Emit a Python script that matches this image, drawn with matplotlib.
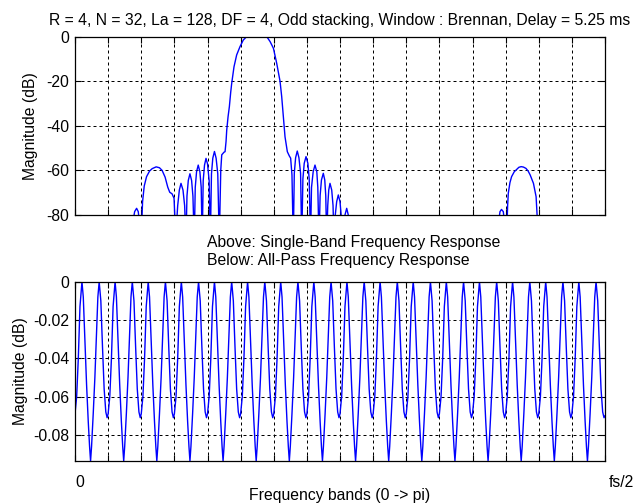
import numpy as np
import matplotlib
matplotlib.use("Agg")
import matplotlib.pyplot as plt

plt.rcParams['font.family'] = ['Liberation Sans', 'DejaVu Sans']
plt.rcParams['axes.unicode_minus'] = False

# ---------------- data ----------------
title_text = "R = 4, N = 32, La = 128, DF = 4, Odd stacking, Window : Brennan, Delay = 5.25 ms"
note_line1 = "Above: Single-Band Frequency Response"
note_line2 = "Below: All-Pass Frequency Response"
ylabel_text = "Magnitude (dB)"
xlabel_text = "Frequency bands (0 -> pi)"
x_left_label = "0"
x_right_label = "fs/2"

n_bands = 16
band_ticks = list(range(0, 17))

top_yticks = [0, -20, -40, -60, -80]
top_yticklabels = ["0", "-20", "-40", "-60", "-80"]
bot_yticks = [0, -0.02, -0.04, -0.06, -0.08]
bot_yticklabels = ["0", "-0.02", "-0.04", "-0.06", "-0.08"]

# Single-band response (frequency in band units, magnitude in dB)
top_freq = [
    0.00, 1.70, 1.74, 1.80, 1.86, 1.91, 1.95, 1.98,
    2.00, 2.04, 2.09, 2.16, 2.25, 2.33, 2.45, 2.55, 2.63, 2.72, 2.80, 2.86, 2.93, 2.99, 3.04,
    3.10, 3.15, 3.20, 3.26, 3.31, 3.35,
    3.38, 3.42, 3.47, 3.52, 3.56, 3.60,
    3.63, 3.67, 3.72, 3.77, 3.81, 3.84,
    3.87, 3.91, 3.955, 4.00, 4.05, 4.085,
    4.12, 4.16, 4.21, 4.26, 4.31, 4.356,
    4.40, 4.43, 4.50, 4.53, 4.56, 4.58, 4.62, 4.66, 4.70, 4.73, 4.80, 4.88, 4.98, 5.08, 5.18,
    5.49, 5.79, 5.89, 5.99, 6.09, 6.19, 6.24, 6.29, 6.34, 6.41, 6.47, 6.51, 6.55, 6.59,
    6.62, 6.66, 6.71, 6.76, 6.81, 6.844,
    6.88, 6.92, 6.974, 7.03, 7.07, 7.109,
    7.14, 7.19, 7.245, 7.30, 7.33, 7.366,
    7.40, 7.44, 7.496, 7.54, 7.57, 7.598,
    7.63, 7.66, 7.698, 7.75, 7.79, 7.819,
    7.85, 7.90, 7.949, 8.00, 8.04, 8.075,
    8.11, 8.15, 8.202, 8.25, 8.28, 8.302,
    12.75, 12.78, 12.83, 12.875, 12.93, 12.97, 12.99,
    13.03, 13.06, 13.08, 13.13, 13.18, 13.26, 13.335, 13.40, 13.47, 13.54, 13.615, 13.68,
    13.74, 13.84, 13.92, 13.95, 13.96,
    16.00,
]
top_db = [
    -95, -95, -84, -78.5, -77, -78.5, -84, -95,
    -90, -74, -67, -62.8, -60.3, -59.2, -58.4, -58.8, -60, -63, -67.5, -69.8, -70.5, -72.5, -90,
    -75.8, -68.8, -65.8, -68.8, -75.8, -92,
    -71.5, -64.5, -61.5, -64.5, -71.5, -92,
    -67.6, -60.6, -57.6, -60.6, -67.6, -92,
    -64.6, -57.6, -54.6, -57.0, -64.6, -92,
    -61.5, -54.5, -51.5, -54.5, -61.5, -92,
    -60, -53, -51.8, -51.6, -47, -42, -36, -31.4, -25, -21, -13.5, -8.2, -4.5, -1.5, 0,
    0, 0, -2.2, -5.2, -12, -20, -26.9, -35.9, -44.9, -51.6, -53.5, -54.5, -62, -92,
    -61.3, -54.3, -51.3, -54.3, -61.3, -92,
    -63.8, -56.8, -53.8, -56.8, -63.8, -92,
    -67.6, -60.6, -57.6, -60.6, -67.6, -92,
    -71.3, -64.3, -61.3, -64.3, -71.3, -92,
    -75.8, -68.8, -65.8, -68.8, -75.8, -92,
    -81, -74, -71, -74, -81, -92,
    -87, -80, -77, -80, -87, -95,
    -95, -84, -78.5, -77.5, -78.5, -84, -95,
    -90, -76, -70.3, -65.5, -62.8, -60.6, -59.5, -58.6, -58.3, -58.5, -59.1, -60.3,
    -62, -65.8, -71.8, -80, -95,
    -95,
]

# All-pass response: sample positions inside each band and magnitude (dB) per band
band_offsets = [0.00, 0.05, 0.10, 0.15, 0.21, 0.25, 0.30, 0.35, 0.40, 0.44, 0.47,
                0.50, 0.55, 0.60, 0.65, 0.69, 0.73, 0.78, 0.83, 0.88, 0.93, 0.97]
allpass_db = [
    [-0.069, -0.060, -0.040, -0.013, 0.000, -0.008, -0.031, -0.054, -0.073, -0.086, -0.0936, -0.086, -0.069, -0.050, -0.027, -0.008, 0.000, -0.010, -0.034, -0.056, -0.068, -0.071],
    [-0.069, -0.060, -0.040, -0.013, 0.000, -0.008, -0.031, -0.054, -0.073, -0.086, -0.0936, -0.086, -0.069, -0.050, -0.027, -0.008, 0.000, -0.010, -0.034, -0.056, -0.068, -0.071],
    [-0.069, -0.060, -0.040, -0.013, 0.000, -0.008, -0.031, -0.054, -0.073, -0.086, -0.0936, -0.086, -0.069, -0.050, -0.027, -0.008, 0.000, -0.010, -0.034, -0.056, -0.068, -0.071],
    [-0.069, -0.060, -0.040, -0.013, 0.000, -0.008, -0.031, -0.054, -0.073, -0.086, -0.0936, -0.086, -0.069, -0.050, -0.027, -0.008, 0.000, -0.010, -0.034, -0.056, -0.068, -0.071],
    [-0.069, -0.060, -0.040, -0.013, 0.000, -0.008, -0.031, -0.054, -0.073, -0.086, -0.0936, -0.086, -0.069, -0.050, -0.027, -0.008, 0.000, -0.010, -0.034, -0.056, -0.068, -0.071],
    [-0.069, -0.060, -0.040, -0.013, 0.000, -0.008, -0.031, -0.054, -0.073, -0.086, -0.0936, -0.086, -0.069, -0.050, -0.027, -0.008, 0.000, -0.010, -0.034, -0.056, -0.068, -0.071],
    [-0.069, -0.060, -0.040, -0.013, 0.000, -0.008, -0.031, -0.054, -0.073, -0.086, -0.0936, -0.086, -0.069, -0.050, -0.027, -0.008, 0.000, -0.010, -0.034, -0.056, -0.068, -0.071],
    [-0.069, -0.060, -0.040, -0.013, 0.000, -0.008, -0.031, -0.054, -0.073, -0.086, -0.0936, -0.086, -0.069, -0.050, -0.027, -0.008, 0.000, -0.010, -0.034, -0.056, -0.068, -0.071],
    [-0.069, -0.060, -0.040, -0.013, 0.000, -0.008, -0.031, -0.054, -0.073, -0.086, -0.0936, -0.086, -0.069, -0.050, -0.027, -0.008, 0.000, -0.010, -0.034, -0.056, -0.068, -0.071],
    [-0.069, -0.060, -0.040, -0.013, 0.000, -0.008, -0.031, -0.054, -0.073, -0.086, -0.0936, -0.086, -0.069, -0.050, -0.027, -0.008, 0.000, -0.010, -0.034, -0.056, -0.068, -0.071],
    [-0.069, -0.060, -0.040, -0.013, 0.000, -0.008, -0.031, -0.054, -0.073, -0.086, -0.0936, -0.086, -0.069, -0.050, -0.027, -0.008, 0.000, -0.010, -0.034, -0.056, -0.068, -0.071],
    [-0.069, -0.060, -0.040, -0.013, 0.000, -0.008, -0.031, -0.054, -0.073, -0.086, -0.0936, -0.086, -0.069, -0.050, -0.027, -0.008, 0.000, -0.010, -0.034, -0.056, -0.068, -0.071],
    [-0.069, -0.060, -0.040, -0.013, 0.000, -0.008, -0.031, -0.054, -0.073, -0.086, -0.0936, -0.086, -0.069, -0.050, -0.027, -0.008, 0.000, -0.010, -0.034, -0.056, -0.068, -0.071],
    [-0.069, -0.060, -0.040, -0.013, 0.000, -0.008, -0.031, -0.054, -0.073, -0.086, -0.0936, -0.086, -0.069, -0.050, -0.027, -0.008, 0.000, -0.010, -0.034, -0.056, -0.068, -0.071],
    [-0.069, -0.060, -0.040, -0.013, 0.000, -0.008, -0.031, -0.054, -0.073, -0.086, -0.0936, -0.086, -0.069, -0.050, -0.027, -0.008, 0.000, -0.010, -0.034, -0.056, -0.068, -0.071],
    [-0.069, -0.060, -0.040, -0.013, 0.000, -0.008, -0.031, -0.054, -0.073, -0.086, -0.0936, -0.086, -0.069, -0.050, -0.027, -0.008, 0.000, -0.010, -0.034, -0.056, -0.068, -0.071],
]
allpass_end_db = -0.070

# ---------------- figure ----------------
W, H = 636, 504
fig = plt.figure(figsize=(W / 100, H / 100), dpi=100)
FS = 11.3
LINE_COLOR = '#0000ff'
grid_kw = dict(color='black', linestyle=(0, (3, 3)), linewidth=0.72)


def px_axes(left, top, right, bottom):
    return fig.add_axes([left / W, 1 - bottom / H, (right - left) / W, (bottom - top) / H])


def style(ax):
    ax.set_xlim(0, n_bands)
    ax.set_xticks(band_ticks)
    ax.tick_params(direction='in', top=True, right=True, length=4, width=0.8,
                   labelsize=FS, labelbottom=False, pad=4)
    ax.grid(True, **grid_kw)
    ax.set_axisbelow(True)
    for s in ax.spines.values():
        s.set_linewidth(0.9)
        s.set_color('black')


# top axes
ax1 = px_axes(75, 36.7, 605, 215)
ax1.plot(top_freq, top_db, color=LINE_COLOR, linewidth=1.0)
ax1.set_ylim(-80, 0)
ax1.set_yticks(top_yticks)
ax1.set_yticklabels(top_yticklabels)
style(ax1)
ax1.set_ylabel(ylabel_text, fontsize=FS, labelpad=6)

# bottom axes
ax2 = px_axes(75, 281.7, 605, 461)
x_all = []
y_all = []
for b in range(n_bands):
    for off, val in zip(band_offsets, allpass_db[b]):
        x_all.append(b + off)
        y_all.append(val)
x_all.append(n_bands)
y_all.append(allpass_end_db)
ax2.plot(x_all, y_all, color=LINE_COLOR, linewidth=1.0)
ax2.set_ylim(-0.0936, 0)
ax2.set_yticks(bot_yticks)
ax2.set_yticklabels(bot_yticklabels)
style(ax2)
ax2.set_ylabel(ylabel_text, fontsize=FS, labelpad=4)

# texts
fig.text(340 / W, 1 - 25.5 / H, title_text, ha='center', va='baseline', fontsize=FS)
fig.text(207 / W, 1 - 247.5 / H, note_line1, ha='left', va='baseline', fontsize=FS)
fig.text(207 / W, 1 - 265.5 / H, note_line2, ha='left', va='baseline', fontsize=FS)
fig.text(75 / W, 1 - 487 / H, x_left_label, ha='left', va='baseline', fontsize=FS)
fig.text(609 / W, 1 - 487 / H, x_right_label, ha='left', va='baseline', fontsize=FS)
fig.text(340 / W, 1 - 500 / H, xlabel_text, ha='center', va='baseline', fontsize=FS)

fig.savefig('out.png', dpi=100)
